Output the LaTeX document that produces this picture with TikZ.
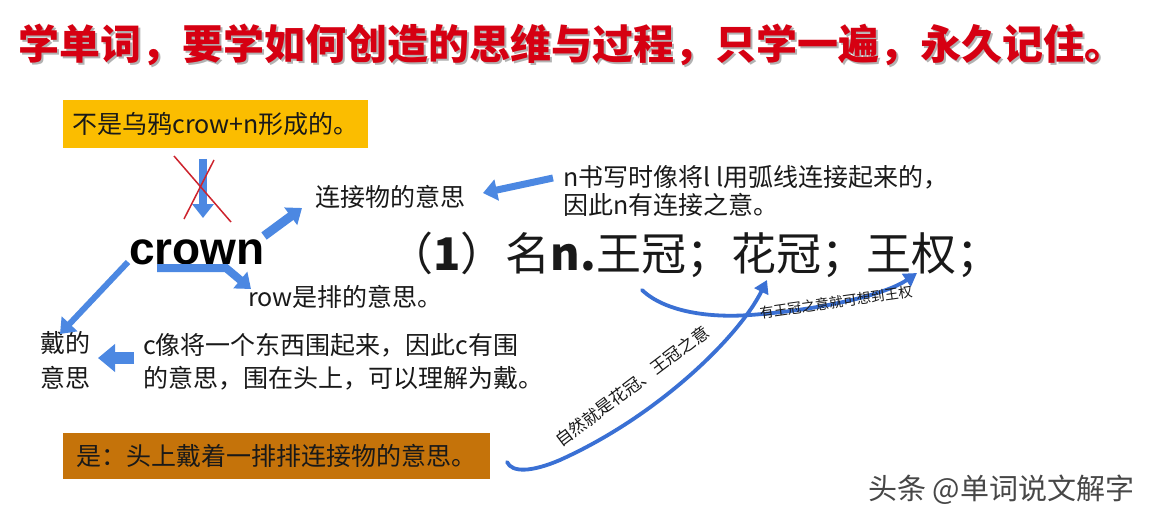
\documentclass[tikz,border=0pt]{standalone}
\usepackage{fontspec}
\setmainfont{Noto Sans CJK SC}
\newfontfamily\arialfont{Liberation Sans}
\usetikzlibrary{arrows.meta}
\definecolor{arrowblue}{RGB}{76,136,226}
\definecolor{curveblue}{RGB}{58,112,212}
\definecolor{titlered}{RGB}{214,0,18}
\definecolor{boxyellow}{RGB}{251,189,0}
\definecolor{boxorange}{RGB}{197,115,10}
\definecolor{crossred}{RGB}{205,35,45}
\definecolor{ink}{RGB}{25,25,25}
\tikzset{
  txt/.style={inner sep=0pt, text=ink, font=\fontsize{25}{30}\selectfont},
  fatarrow/.style={draw=arrowblue, line width=9pt, -{Triangle[length=14pt,width=21pt]}},
  curvearrow/.style={draw=curveblue, line width=3.8pt, line cap=round, -{Triangle[length=13pt,width=15pt]}},
  curvelabel/.style={inner sep=0pt, text=ink},
}
\begin{document}
\begin{tikzpicture}[x=1pt,y=-1pt]
\useasboundingbox (0,0) rectangle (1154,516);
\fill[white] (0,0) rectangle (1154,516);

% title with shadow
\node[anchor=west, inner sep=0pt, text=black!30, font=\fontsize{41}{41}\selectfont\bfseries] (titleshadow) at (20,47) {学单词，要学如何创造的思维与过程，只学一遍，永久记住。};
\node[anchor=west, inner sep=0pt, text=titlered, font=\fontsize{41}{41}\selectfont\bfseries] (title) at (18,45) {学单词，要学如何创造的思维与过程，只学一遍，永久记住。};

% boxes
\node[txt, fill=boxyellow, minimum width=305pt, minimum height=48pt, anchor=north west] (notcrow) at (63,100) {不是乌鸦crow+n形成的。};
\node[txt, fill=boxorange, minimum width=427pt, minimum height=46pt, anchor=north west] (shi) at (63,433) {是：头上戴着一排排连接物的意思。};

% texts
\node[txt, anchor=west] (lianjie) at (315,197) {连接物的意思};
\node[txt, anchor=west, align=left, font=\fontsize{25}{28}\selectfont] (ntext) at (563,191) {n书写时像将l l用弧线连接起来的，\\因此n有连接之意。};
\node[anchor=west, inner sep=0pt, text=black, font=\arialfont\fontsize{46}{46}\selectfont\bfseries] (crown) at (129,252) {crown};
\node[txt, anchor=west, font=\fontsize{45}{45}\selectfont] (meaning) at (388,255) {（\textbf{1}）名\textbf{n.}王冠；花冠；王权；};
\node[txt, anchor=west] (row) at (248,297) {row是排的意思。};
\node[txt, anchor=west, align=left, font=\fontsize{25}{35}\selectfont] (dai) at (40,360) {戴的\\意思};
\node[txt, anchor=west, align=left, font=\fontsize{25}{33}\selectfont] (ctext) at (143,362) {c像将一个东西围起来，因此c有围\\的意思，围在头上，可以理解为戴。};
\node[anchor=west, inner sep=0pt, text=black!72, font=\fontsize{29}{29}\selectfont] (mark) at (868,490) {头条 @单词说文解字};

% arrow end points
\coordinate (a1s) at (203,159);
\coordinate (a1e) at (203,218);
\coordinate (a2s) at (264,236);
\coordinate (a2e) at (302,208);
\coordinate (a3s) at (553,178);
\coordinate (a3e) at (483,193);
\coordinate (a4s) at (157,268);
\coordinate (a4m) at (226,268);
\coordinate (a4e) at (251,289);
\coordinate (a5s) at (128,262);
\coordinate (a5e) at (60,334);
\coordinate (a6s) at (134,358);
\coordinate (a6e) at (98,358);

% straight fat arrows
\draw[fatarrow, line width=8pt] (a1s) -- (a1e);
\draw[crossred, line width=1.5pt] (174,156) -- (231,222);
\draw[crossred, line width=1.5pt] (214,160) -- (184,219);
\draw[fatarrow] (a2s) -- (a2e);
\draw[fatarrow, line width=7pt] (a3s) -- (a3e);
\draw[fatarrow, line width=8pt] (a4s) -- (a4m) -- (a4e);
\draw[fatarrow, line width=6pt] (a5s) -- (a5e);
\draw[fatarrow, line width=12pt, -{Triangle[length=17pt,width=27pt]}] (a6s) -- (a6e);

% curved arrows
\coordinate (cAs) at (507,462);
\coordinate (cAe) at (767,280);
\coordinate (cBs) at (642,290);
\coordinate (cBe) at (917,273);
\draw[curvearrow] (cAs) .. controls (512,473) and (532,472) .. (560,460) .. controls (660,415) and (740,335) .. (cAe);
\draw[curvearrow] (cBs) .. controls (665,312) and (710,318) .. (750,315) .. controls (820,310) and (885,295) .. (cBe);

\node[curvelabel, rotate=37, font=\fontsize{17}{17}\selectfont] (labA) at (632,386) {自然就是花冠、王冠之意};
\node[curvelabel, rotate=8, font=\fontsize{14}{14}\selectfont] (labB) at (836,302) {有王冠之意就可想到王权};
\end{tikzpicture}
\end{document}
